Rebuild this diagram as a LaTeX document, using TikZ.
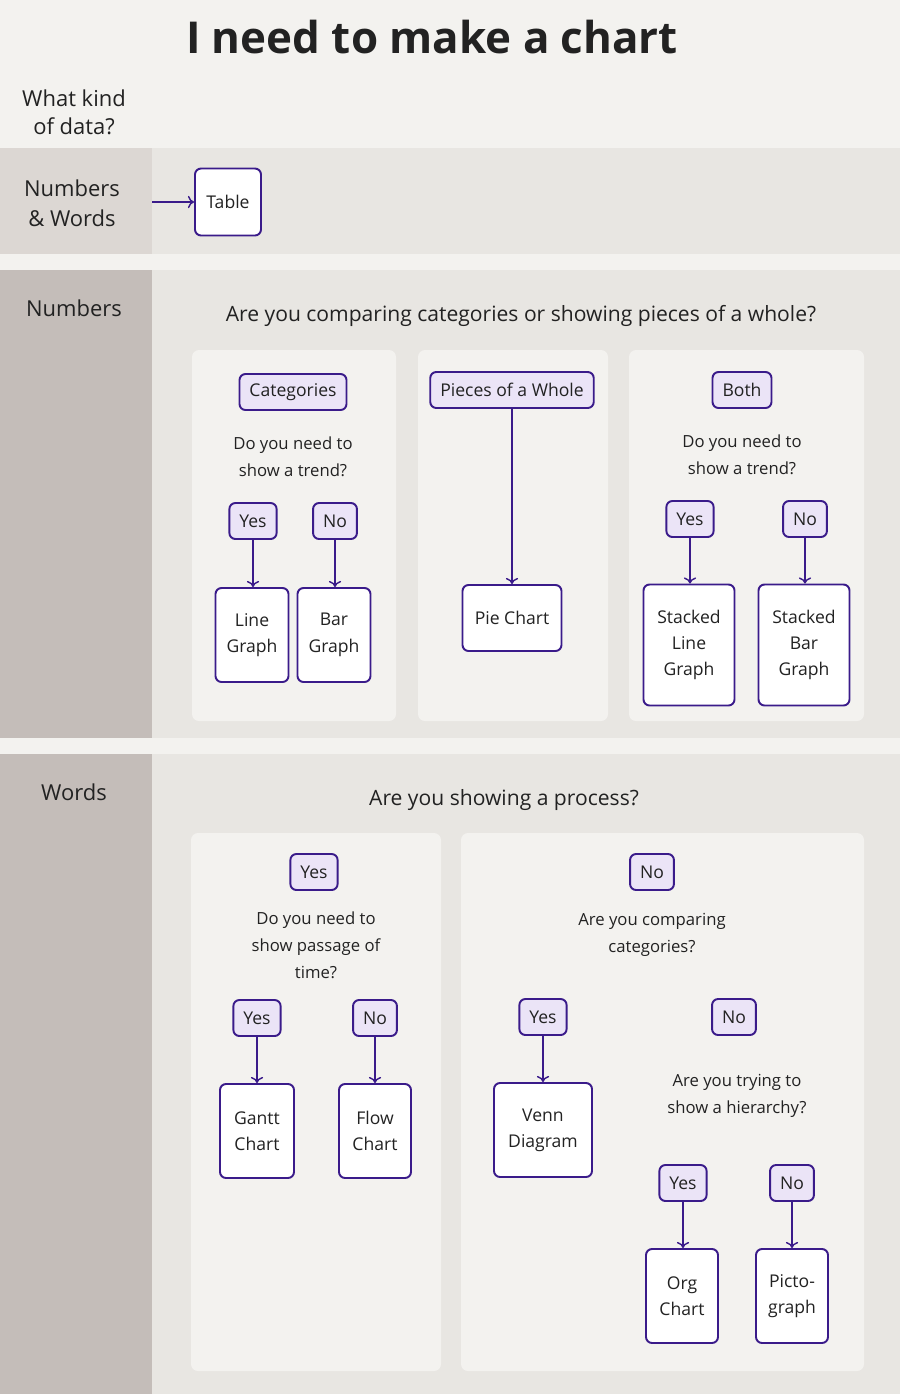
\documentclass[tikz,border=0pt]{standalone}
\usepackage{fontspec}
\setmainfont{Open Sans}
\usetikzlibrary{arrows.meta}
\definecolor{pagebg}{HTML}{F3F2EF}
\definecolor{bandbg}{HTML}{E8E6E2}
\definecolor{sidebg}{HTML}{C4BDB9}
\definecolor{sidelight}{HTML}{DCD7D3}
\definecolor{ink}{HTML}{3A1B8A}
\definecolor{lav}{HTML}{EBE4F7}
\definecolor{txt}{HTML}{222222}
\tikzset{
  chartbox/.style={draw=ink, line width=1.1pt, rounded corners=0.12cm, fill=white, align=center,
    text=txt, font=\fontsize{10}{15}\selectfont, inner sep=0pt},
  answer/.style={draw=ink, line width=1.1pt, rounded corners=0.12cm, fill=lav, align=center,
    text=txt, font=\fontsize{10}{12}\selectfont, minimum height=0.72cm, inner xsep=0.2cm},
  question/.style={align=center, text=txt, font=\fontsize{9.5}{15.5}\selectfont},
  flow/.style={-{To[length=3.5pt,width=7pt]}, draw=ink, line width=0.8pt},
  panel/.style={fill=pagebg, rounded corners=0.14cm},
}
\begin{document}
\begin{tikzpicture}[x=0.02cm, y=-0.02cm]
% Background and bands
\fill[pagebg] (0,0) rectangle (900,1394);
\fill[bandbg] (0,148) rectangle (900,254);
\fill[sidelight] (0,148) rectangle (152,254);
\fill[bandbg] (0,270) rectangle (900,738);
\fill[sidebg] (0,270) rectangle (152,738);
\fill[bandbg] (0,754) rectangle (900,1394);
\fill[sidebg] (0,754) rectangle (152,1394);

% Title and row labels
\node[font=\fontsize{25}{30}\selectfont\bfseries, text=txt] (title) at (432,37) {I need to make a chart};
\node[align=center, font=\fontsize{12.5}{16}\selectfont, text=txt] (kind) at (74,112) {What kind\\of data?};
\node[align=center, font=\fontsize{12.5}{17}\selectfont, text=txt] (numwords) at (72,203) {Numbers\\\& Words};
\node[font=\fontsize{12.5}{16}\selectfont, text=txt] (numbers) at (74,308) {Numbers};
\node[font=\fontsize{12.5}{16}\selectfont, text=txt] (words) at (74,792) {Words};

% Numbers & Words
\coordinate (start) at (152,202);
\node[chartbox, minimum width=1.32cm, minimum height=1.34cm] (table) at (228,202) {Table};
\draw[flow] (start) -- (table);

% Numbers
\node[font=\fontsize{12}{15}\selectfont, text=txt] (q1) at (521,316) {Are you comparing categories or showing pieces of a whole?};
\fill[panel] (192,350) rectangle (396,721);
\fill[panel] (418,350) rectangle (608,721);
\fill[panel] (629,350) rectangle (864,721);

\node[answer] (cat) at (293,392) {Categories};
\node[question] (cattrend) at (293,457) {Do you need to\\show a trend?};
\node[answer] (catyes) at (253,521) {Yes};
\node[answer] (catno) at (335,521) {No};
\node[chartbox, minimum width=1.46cm, minimum height=1.88cm] (line) at (252,635) {Line\\Graph};
\node[chartbox, minimum width=1.46cm, minimum height=1.88cm] (bar) at (334,635) {Bar\\Graph};
\draw[flow] (catyes) -- (catyes |- line.north);
\draw[flow] (catno) -- (catno |- bar.north);

\node[answer] (whole) at (512,390) {Pieces of a Whole};
\node[chartbox, minimum width=1.98cm, minimum height=1.32cm] (pie) at (512,618) {Pie Chart};
\draw[flow] (whole) -- (pie);

\node[answer] (both) at (742,390) {Both};
\node[question] (bothtrend) at (742,455) {Do you need to\\show a trend?};
\node[answer] (bothyes) at (690,519) {Yes};
\node[answer] (bothno) at (805,519) {No};
\node[chartbox, minimum width=1.82cm, minimum height=2.42cm] (sline) at (689,645) {Stacked\\Line\\Graph};
\node[chartbox, minimum width=1.82cm, minimum height=2.42cm] (sbar) at (804,645) {Stacked\\Bar\\Graph};
\draw[flow] (bothyes) -- (bothyes |- sline.north);
\draw[flow] (bothno) -- (bothno |- sbar.north);

% Words
\node[font=\fontsize{12}{15}\selectfont, text=txt] (q2) at (504,800) {Are you showing a process?};
\fill[panel] (191,833) rectangle (441,1371);
\fill[panel] (461,833) rectangle (864,1371);

\node[answer] (proc) at (314,872) {Yes};
\node[question] (time) at (316,945) {Do you need to\\show passage of\\time?};
\node[answer] (timeyes) at (257,1018) {Yes};
\node[answer] (timeno) at (375,1018) {No};
\node[chartbox, minimum width=1.48cm, minimum height=1.88cm] (gantt) at (257,1131) {Gantt\\Chart};
\node[chartbox, minimum width=1.44cm, minimum height=1.88cm] (flowc) at (375,1131) {Flow\\Chart};
\draw[flow] (timeyes) -- (gantt);
\draw[flow] (timeno) -- (flowc);

\node[answer] (noproc) at (652,872) {No};
\node[question] (comp) at (652,935) {Are you comparing\\categories?};
\node[answer] (compyes) at (543,1017) {Yes};
\node[answer] (compno) at (734,1017) {No};
\node[chartbox, minimum width=1.96cm, minimum height=1.88cm] (venn) at (543,1130) {Venn\\Diagram};
\draw[flow] (compyes) -- (venn);
\node[question] (hier) at (737,1096) {Are you trying to\\show a hierarchy?};
\node[answer] (hieryes) at (683,1183) {Yes};
\node[answer] (hierno) at (792,1183) {No};
\node[chartbox, minimum width=1.44cm, minimum height=1.88cm] (org) at (682,1296) {Org\\Chart};
\node[chartbox, minimum width=1.44cm, minimum height=1.88cm] (picto) at (792,1296) {Picto-\\graph};
\draw[flow] (hieryes) -- (hieryes |- org.north);
\draw[flow] (hierno) -- (hierno |- picto.north);
\end{tikzpicture}
\end{document}
